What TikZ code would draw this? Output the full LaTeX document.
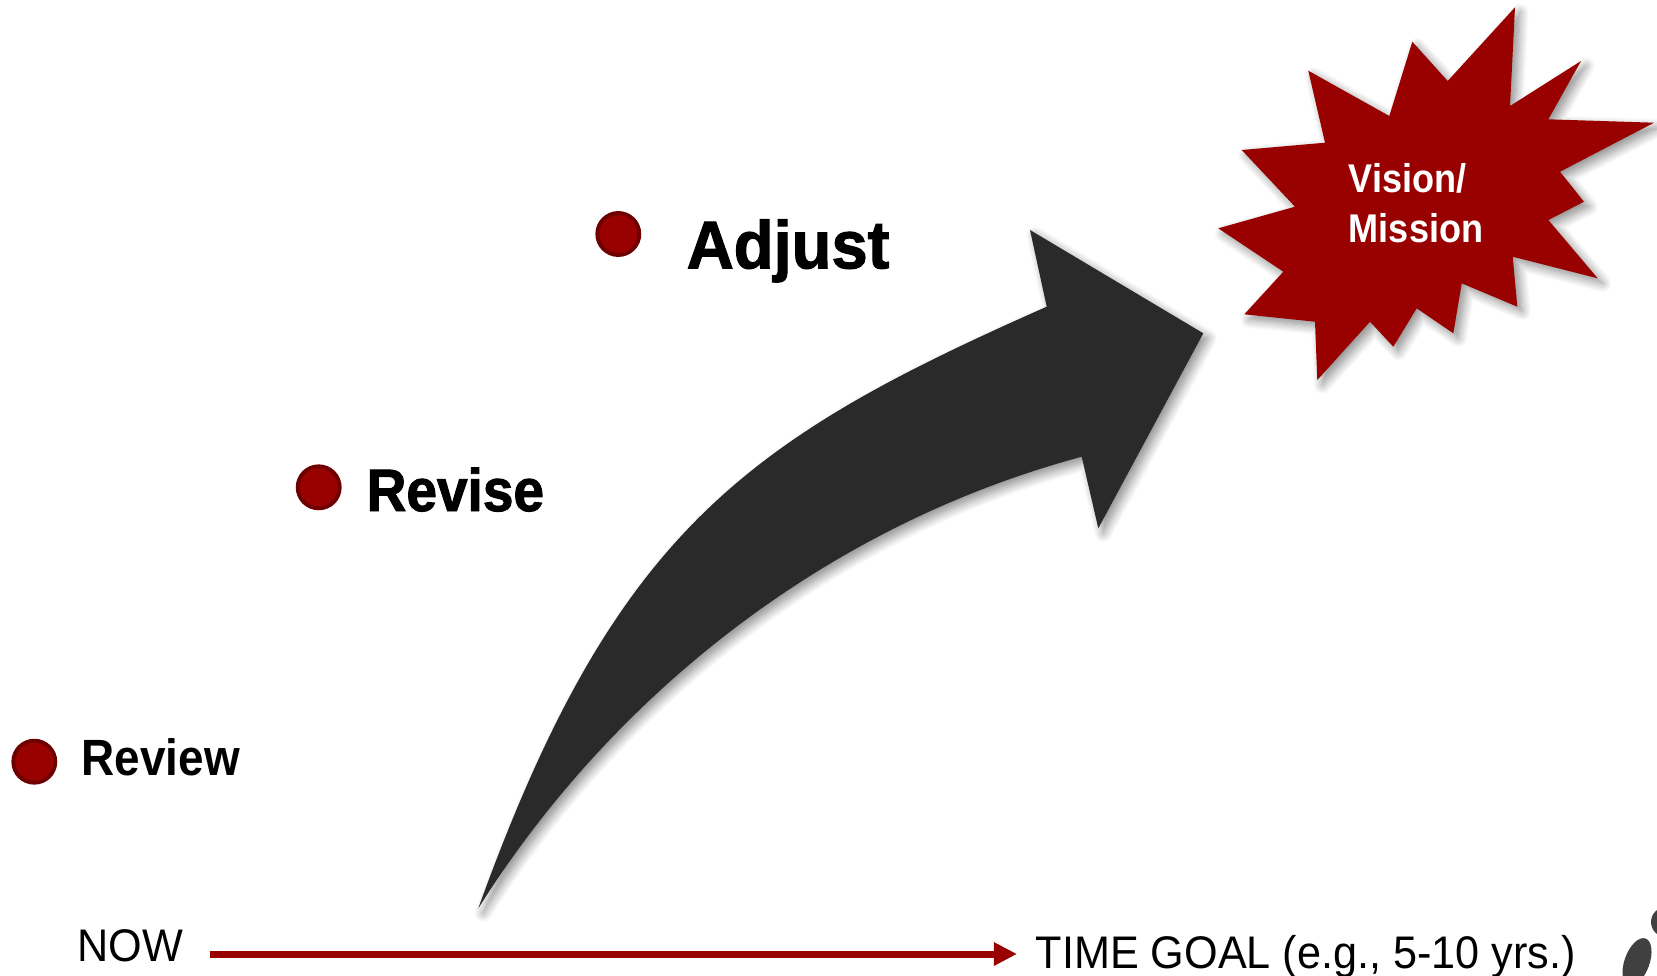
\documentclass[tikz,border=0pt]{standalone}
\usepackage{fontspec}
\setmainfont{Liberation Sans}[FakeStretch=0.9]
\newfontfamily\heavyfont{Liberation Sans}[FakeStretch=0.92,BoldFeatures={FakeBold=1.6}]
\newfontfamily\heavywide{Liberation Sans}[FakeStretch=0.965,BoldFeatures={FakeBold=1.6}]
\newfontfamily\narrowfont{Liberation Sans}[FakeStretch=0.945]
\usetikzlibrary{arrows.meta, shadows.blur, positioning}
\definecolor{crimson}{HTML}{990000}
\definecolor{crimsondark}{HTML}{6E0000}
\definecolor{charcoal}{HTML}{2A2A2A}
\definecolor{logogray}{HTML}{404040}

\begin{document}
\begin{tikzpicture}[
      x=0.01cm, y=-0.01cm,
      dot/.style={circle, draw=crimsondark, line width=1.1pt, fill=crimson, minimum size=0.42cm, inner sep=0pt},
      steplabel/.style={anchor=base west, inner sep=0pt, text=black},
      timelabel/.style={anchor=base west, inner sep=0pt, font=\narrowfont\fontsize{13}{15}\selectfont},
      timeline/.style={-{Triangle[length=0.23cm, width=0.22cm]}, crimson, line width=0.07cm},
      softshadow/.style={blur shadow={shadow xshift=0.05cm, shadow yshift=-0.05cm, shadow blur radius=0.09cm, shadow blur steps=10, shadow opacity=45}}
    ]
      \useasboundingbox (0,0) rectangle (1657,975);

      % Steps: bullets with labels
      \node[dot] (dot1) at (34.3,761.7) {};
      \node[steplabel, font=\bfseries\fontsize{14.5}{17}\selectfont] (review) at (81,775) {Review};

      \node[dot] (dot2) at (318.7,487.3) {};
      \node[steplabel, font=\heavyfont\bfseries\fontsize{17}{20}\selectfont] (revise) at (366,511) {Revise};

      \node[dot] (dot3) at (618.3,234) {};
      \node[steplabel, font=\heavywide\bfseries\fontsize{19.2}{22}\selectfont] (adjust) at (686,268.3) {Adjust};

      % Big curved arrow
      \fill[charcoal, softshadow]
        (478.3,908.3) .. controls (613.9,531.9) and (744.8,440) .. (1046.7,306.7)
        -- (1030,230) -- (1203.3,333.3) -- (1098.3,528.3) -- (1081.7,456.7)
        .. controls (811.5,529.5) and (603.1,709.3) .. (478.3,908.3) -- cycle;

      % Goal: starburst
      \fill[crimson, softshadow]
        (1515,7.3) -- (1510,106) -- (1581,61) -- (1548.3,119.3) -- (1654,122.7)
        -- (1560,171.7) -- (1584,201.7) -- (1548.3,220) -- (1597.7,278.3)
        -- (1512.7,256.7) -- (1517.3,306.7) -- (1461.7,283.3) -- (1453.3,333.3)
        -- (1416.7,308.3) -- (1393.3,346.7) -- (1370,321.7) -- (1317.3,380)
        -- (1315,321.7) -- (1244.3,314.3) -- (1283.3,271.7) -- (1218.3,228.3)
        -- (1295,206.7) -- (1241.7,150) -- (1325,142.7) -- (1308.3,70.7)
        -- (1389.3,116) -- (1412.3,41.7) -- (1447.7,81) -- cycle;
      \node[align=left, text=white, inner sep=0pt, font=\bfseries\fontsize{11.4}{14.2}\selectfont] (vision) at (1416,203) {Vision/\\Mission};

      % Timeline
      \node[timelabel] (now) at (77,961.7) {NOW};
      \node[timelabel] (goal) at (1035,968) {TIME GOAL (e.g., 5-10 yrs.)};
      \coordinate (t0) at (210,954);
      \draw[timeline, shorten >=0.18cm] (t0) -- (t0 -| goal.west);

      % Logo corner
      \fill[logogray, rotate around={-20:(1637,962)}] (1637,962) ellipse [x radius=12.5, y radius=25];
      \fill[logogray] (1666,922) circle [radius=15];
    \end{tikzpicture}
\end{document}
